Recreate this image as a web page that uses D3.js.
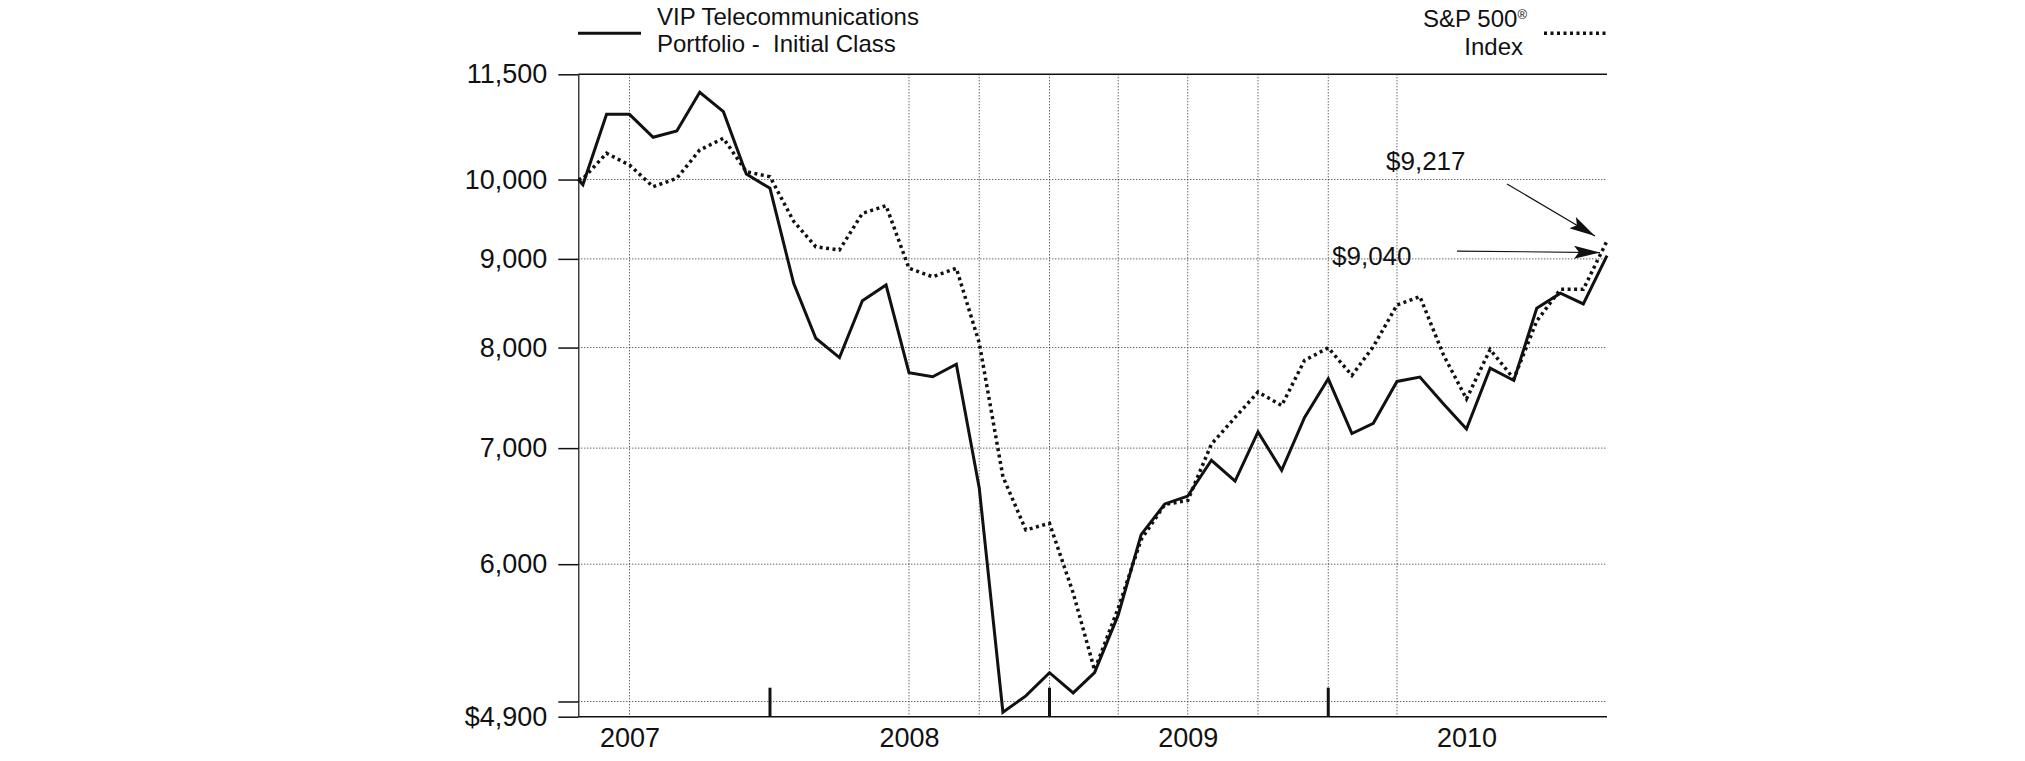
<!doctype html>
<html>
<head>
<meta charset="utf-8">
<script src="https://cdnjs.cloudflare.com/ajax/libs/d3/7.8.5/d3.min.js"></script>
<style>
  body { margin: 0; background: #fff; }
  svg text { font-family: "Liberation Sans", Arial, Helvetica, sans-serif; fill: #111; }
  .axis path, .axis line { stroke: #111; }
</style>
</head>
<body>
<svg id="chart" width="2025" height="761"></svg>
<script>
// dates of the points: launch day, then month ends
var dates = [
  "2007-04-24","2007-04-30","2007-05-31","2007-06-30","2007-07-31","2007-08-31","2007-09-30","2007-10-31","2007-11-30","2007-12-31",
  "2008-01-31","2008-02-29","2008-03-31","2008-04-30","2008-05-31","2008-06-30","2008-07-31","2008-08-31","2008-09-30","2008-10-31","2008-11-30","2008-12-31",
  "2009-01-31","2009-02-28","2009-03-31","2009-04-30","2009-05-31","2009-06-30","2009-07-31","2009-08-31","2009-09-30","2009-10-31","2009-11-30","2009-12-31",
  "2010-01-31","2010-02-28","2010-03-31","2010-04-30","2010-05-31","2010-06-30","2010-07-31","2010-08-31","2010-09-30","2010-10-31","2010-11-30","2010-12-31"
];

var vipValues = [
  10000, 9930, 10905, 10905, 10577, 10666, 11228, 10943, 10074, 9884,
  8712, 8100, 7894, 8514, 8693, 7737, 7696, 7825, 6640, 4929, 5037, 5195,
  5057, 5195, 5609, 6240, 6500, 6568, 6888, 6700, 7153, 6797, 7291, 7675,
  7137, 7234, 7648, 7692, 7422, 7180, 7784, 7658, 8428, 8599, 8477, 9040
];

var spValues = [
  10000, 10010, 10355, 10195, 9905, 10017, 10400, 10563, 10105, 10037,
  9460, 9146, 9107, 9561, 9659, 8888, 8789, 8888, 8050, 6739, 6279, 6335,
  5775, 5213, 5660, 6200, 6495, 6530, 7037, 7291, 7541, 7407, 7866, 7997,
  7710, 8010, 8465, 8561, 7920, 7473, 7980, 7675, 8286, 8643, 8643, 9217
];

var yTicks = [4900, 5000, 6000, 7000, 8000, 9000, 10000, 11500];
var yGrid = [5000, 6000, 7000, 8000, 9000, 10000];
var xGridDates = ["2007-06-30","2008-06-30","2008-09-30","2008-12-31","2009-03-31","2009-06-30","2009-09-30","2009-12-31","2010-03-31"];
var yearEndDates = ["2007-12-31","2008-12-31","2009-12-31"];
var yearLabelDates = ["2007-06-30","2008-06-30","2009-06-30","2010-06-30"];

var seriesNames = ["VIP Telecommunications", "Portfolio -  Initial Class"];
var indexNames = ["S&P 500", "Index"];

var parse = d3.utcParse("%Y-%m-%d");
var comma = d3.format(",");

var plotLeft = 578.3, plotRight = 1607, plotTop = 74.3, plotBottom = 716.7;

var x = d3.scaleUtc()
    .domain([parse("2007-04-24"), parse("2010-12-31")])
    .range([plotLeft, plotRight]);

var y = d3.scaleLog()
    .domain([4900, 11500])
    .range([plotBottom, plotTop]);

var svg = d3.select("#chart");

// grid
svg.append("g").selectAll("line")
    .data(yGrid)
    .enter().append("line")
    .attr("x1", plotLeft).attr("x2", plotRight)
    .attr("y1", function(d) { return y(d); })
    .attr("y2", function(d) { return y(d); })
    .style("stroke", "#222").style("stroke-width", 1)
    .style("stroke-dasharray", "1,2");

svg.append("g").selectAll("line")
    .data(xGridDates)
    .enter().append("line")
    .attr("x1", function(d) { return x(parse(d)); })
    .attr("x2", function(d) { return x(parse(d)); })
    .attr("y1", plotTop).attr("y2", plotBottom)
    .style("stroke", "#222").style("stroke-width", 1)
    .style("stroke-dasharray", "1,2");

// top and bottom rules
svg.append("line")
    .attr("x1", plotLeft).attr("x2", plotRight)
    .attr("y1", y(11500)).attr("y2", y(11500))
    .style("stroke", "#111").style("stroke-width", 1.5);
svg.append("line")
    .attr("x1", plotLeft).attr("x2", plotRight)
    .attr("y1", y(4900)).attr("y2", y(4900))
    .style("stroke", "#111").style("stroke-width", 1.5);

// y axis
var yAxis = d3.axisLeft(y)
    .tickValues(yTicks)
    .tickSize(20)
    .tickSizeOuter(0)
    .tickPadding(11)
    .tickFormat(function(d) {
        if (d === 4900) return "$" + comma(d);
        if (d === 5000) return "";
        return comma(d);
    });

var gy = svg.append("g")
    .attr("class", "axis")
    .attr("transform", "translate(" + plotLeft + ",0)")
    .call(yAxis);
gy.selectAll("line").style("stroke-width", 1.5);
gy.select(".domain").style("stroke-width", 1.2);
gy.selectAll("text")
    .style("font-size", "27px")
    .style("font-family", "'Liberation Sans', Arial, sans-serif")
    .attr("fill", "#111");

// x axis: year labels centred in each year
var xAxis = d3.axisBottom(x)
    .tickValues(yearLabelDates.map(parse))
    .tickSize(0)
    .tickPadding(11)
    .tickFormat(d3.utcFormat("%Y"));

var gx = svg.append("g")
    .attr("class", "axis")
    .attr("transform", "translate(0," + plotBottom + ")")
    .call(xAxis);
gx.select(".domain").remove();
gx.selectAll("text")
    .style("font-size", "27px")
    .style("font-family", "'Liberation Sans', Arial, sans-serif")
    .attr("fill", "#111");

// year separators
svg.append("g").selectAll("line")
    .data(yearEndDates)
    .enter().append("line")
    .attr("x1", function(d) { return x(parse(d)); })
    .attr("x2", function(d) { return x(parse(d)); })
    .attr("y1", plotBottom - 29).attr("y2", plotBottom)
    .style("stroke", "#111").style("stroke-width", 3);

// lines
var vip = dates.map(function(d, i) { return { date: parse(d), value: vipValues[i] }; });
var sp = dates.map(function(d, i) { return { date: parse(d), value: spValues[i] }; });

var line = d3.line()
    .x(function(d) { return x(d.date); })
    .y(function(d) { return y(d.value); });

svg.append("path")
    .datum(sp)
    .attr("d", line)
    .style("fill", "none")
    .style("stroke", "#111")
    .style("stroke-width", 3.5)
    .style("stroke-dasharray", "3,3.5");

svg.append("path")
    .datum(vip)
    .attr("d", line)
    .style("fill", "none")
    .style("stroke", "#111")
    .style("stroke-width", 3)
    .style("stroke-linejoin", "miter");

// legend
svg.append("line")
    .attr("x1", 578).attr("x2", 641)
    .attr("y1", 33.3).attr("y2", 33.3)
    .style("stroke", "#111").style("stroke-width", 3);

svg.append("g").selectAll("text")
    .data(seriesNames)
    .enter().append("text")
    .attr("x", 657)
    .attr("y", function(d, i) { return 25 + i * 26.7; })
    .style("font-size", "24px")
    .style("white-space", "pre")
    .text(function(d) { return d; });

var idx = svg.append("g");
var t1 = idx.append("text")
    .attr("x", 1527).attr("y", 26.5)
    .attr("text-anchor", "end")
    .style("font-size", "24px");
t1.append("tspan").text(indexNames[0]);
t1.append("tspan").attr("dy", -8).style("font-size", "13px").text("\u00AE");
idx.append("text")
    .attr("x", 1523).attr("y", 55)
    .attr("text-anchor", "end")
    .style("font-size", "24px")
    .text(indexNames[1]);

svg.append("line")
    .attr("x1", 1544).attr("x2", 1607)
    .attr("y1", 33.3).attr("y2", 33.3)
    .style("stroke", "#111").style("stroke-width", 3.5)
    .style("stroke-dasharray", "3,3.5");

// end value callouts with arrows
svg.append("defs").append("marker")
    .attr("id", "head")
    .attr("markerUnits", "userSpaceOnUse")
    .attr("markerWidth", 26).attr("markerHeight", 13)
    .attr("refX", 26).attr("refY", 6.5)
    .attr("orient", "auto")
    .append("path")
    .attr("d", "M0,0 L26,6.5 L0,13 L5,6.5 Z")
    .style("fill", "#111");

var lastDate = parse(dates[dates.length - 1]);
var callouts = [
    { value: spValues[spValues.length - 1], tx: -221, ty: -71, ax: -100, ay: -57, hx: -12, hy: -5 },
    { value: vipValues[vipValues.length - 1], tx: -275, ty: 9.5, ax: -150, ay: -4.5, hx: -7, hy: -3 }
];

callouts.forEach(function(c) {
    var px = x(lastDate), py = y(c.value);
    svg.append("text")
        .attr("x", px + c.tx).attr("y", py + c.ty)
        .style("font-size", "26px")
        .text("$" + comma(c.value));
    svg.append("line")
        .attr("x1", px + c.ax).attr("y1", py + c.ay)
        .attr("x2", px + c.hx).attr("y2", py + c.hy)
        .style("stroke", "#111").style("stroke-width", 1.2)
        .attr("marker-end", "url(#head)");
});
</script>
</body>
</html>
